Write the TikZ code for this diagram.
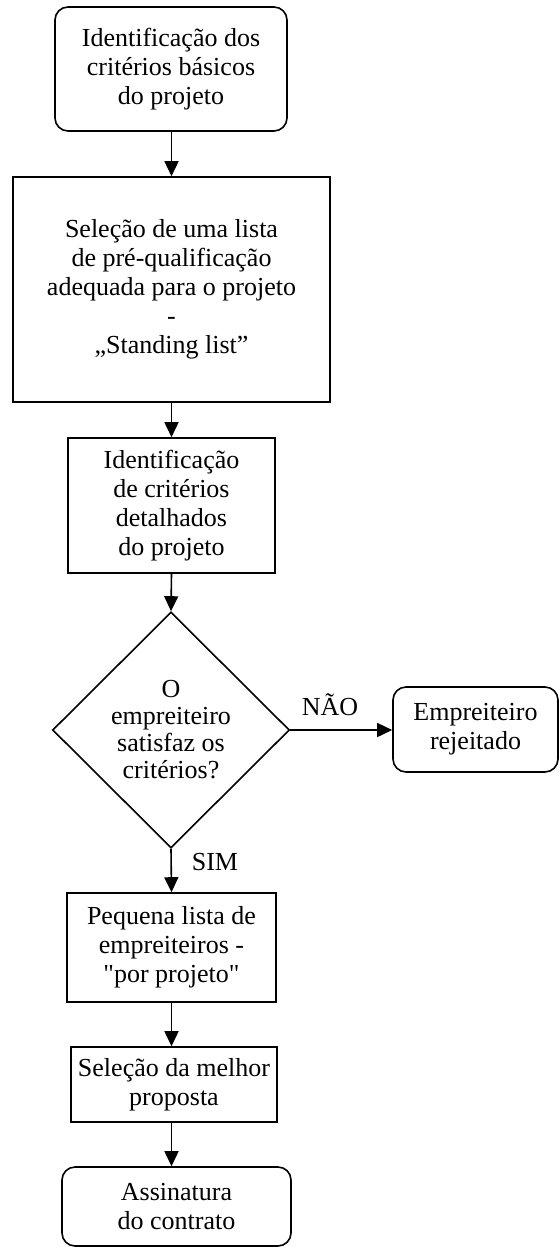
\documentclass[tikz,border=0pt]{standalone}
\usepackage{fontspec}
% plain family without TeX ligature mapping, so straight quotes stay straight
\newfontfamily\flowfont{Liberation Serif}
\usetikzlibrary{shapes.geometric,arrows.meta}
\begin{document}
\begin{tikzpicture}[x=1pt,y=-1pt,
  font=\flowfont\fontsize{26}{29}\selectfont,
  every node/.style={align=center,inner sep=0pt,line width=1.6pt},
  box/.style={draw,rectangle},
  roundbox/.style={draw,rectangle,rounded corners=13pt},
  decision/.style={draw,diamond},
  arr/.style={line width=1.6pt,-{Triangle[length=15pt,width=14pt]}},
  lbl/.style={inner sep=0pt}]
\useasboundingbox (0,0) rectangle (559,1247);

% main column axis
\coordinate (axis) at (171.5,0);

\node[roundbox,minimum width=232,minimum height=124] (basic) at (171,69)
  {Identificação dos\\critérios básicos\\do projeto};
\node[box,minimum width=317,minimum height=225] (standing) at (171.5,289.5)
  {Seleção de uma lista\\de pré-qualificação\\adequada para o projeto\\-\\„Standing list”};
\node[box,minimum width=207,minimum height=135] (detail) at (171.5,505.5)
  {Identificação\\de critérios\\detalhados\\do projeto};
\node[decision,minimum width=237,minimum height=236,
      font=\flowfont\fontsize{26}{27}\selectfont] (check) at (171,730)
  {O\\empreiteiro\\satisfaz os\\critérios?};
\node[roundbox,minimum width=165,minimum height=85] (reject) at (475.5,729.5)
  {Empreiteiro\\rejeitado};
\node[box,minimum width=209,minimum height=109] (short) at (171.5,947.5)
  {Pequena lista de\\empreiteiros -\\"por projeto"};
\node[box,minimum width=206,minimum height=75] (best) at (174,1084.5)
  {Seleção da melhor\\proposta};
\node[roundbox,minimum width=229,minimum height=79] (sign) at (176.5,1206.5)
  {Assinatura\\do contrato};

\node[lbl] (no) at (330,705) {NÃO};
\node[lbl] (yes) at (215,862) {SIM};

\draw[arr] (axis |- basic.south) -- (axis |- standing.north);
\draw[arr] (axis |- standing.south) -- (axis |- detail.north);
\draw[arr] (axis |- detail.south) -- (check.north);
\draw[arr] (check.east) -- (reject.west |- check.east);
\draw[arr] (check.south) -- (axis |- short.north);
\draw[arr] (axis |- short.south) -- (axis |- best.north);
\draw[arr] (axis |- best.south) -- (axis |- sign.north);
\end{tikzpicture}
\end{document}
